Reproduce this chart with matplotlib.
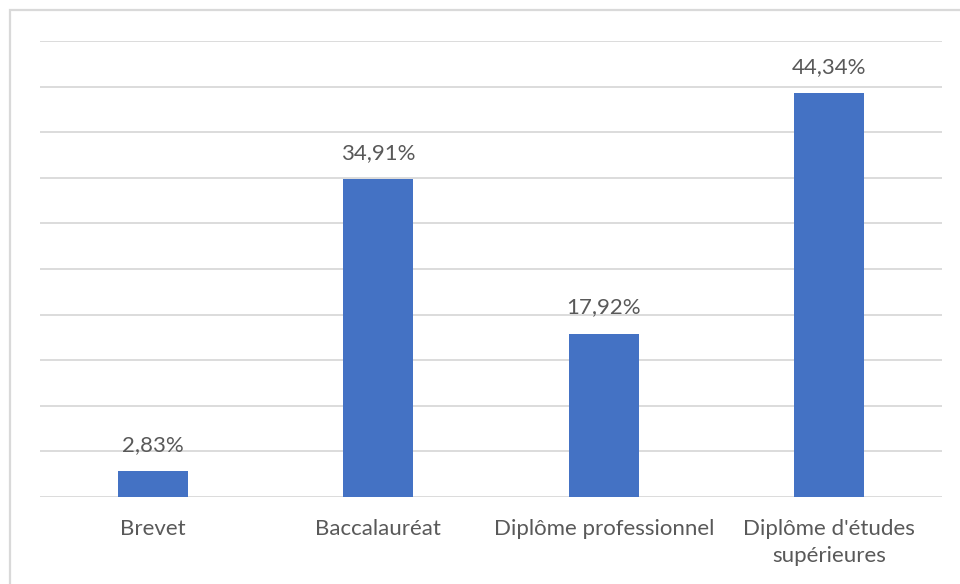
import matplotlib.pyplot as plt
from matplotlib.patches import Rectangle

# niveaux de diplôme et pourcentages
categories = ["Brevet", "Baccalauréat", "Diplôme professionnel", "Diplôme d'études\nsupérieures"]
values = [2.83, 34.91, 17.92, 44.34]

bar_color = "#4472C4"
text_color = "#595959"
grid_color = "#D9D9D9"

plt.rcParams['font.family'] = ['Lato', 'DejaVu Sans']

fig = plt.figure(figsize=(9.6, 5.84), dpi=100)
ax = fig.add_axes([40 / 960, 1 - 497 / 584, 902 / 960, 456 / 584])

x = list(range(len(categories)))
bars = ax.bar(x, values, width=0.31, color=bar_color, zorder=3)

ax.set_xlim(-0.5, len(categories) - 0.5)
ax.set_ylim(0, 50)
ax.set_yticks(range(0, 51, 5))
ax.yaxis.grid(True, color=grid_color, linewidth=1.3, zorder=0)
ax.tick_params(axis='y', left=False, labelleft=False)
ax.tick_params(axis='x', bottom=False, pad=12, labelsize=16, labelcolor=text_color)
ax.set_xticks(x)
ax.set_xticklabels(categories, linespacing=1.45)
for s in ax.spines.values():
    s.set_visible(False)

# étiquettes de valeur au-dessus des barres
for xi, v in zip(x, values):
    ax.annotate(f"{v:.2f}".replace('.', ',') + '%', (xi, v),
                xytext=(0, 14.4), textcoords='offset points',
                ha='center', va='baseline', fontsize=16, color=text_color)

# cadre du graphique
fig.patches.append(Rectangle((10 / 960, -0.2), 1.2, 1.2 - 10 / 584,
                             transform=fig.transFigure, fill=False,
                             edgecolor=grid_color, linewidth=1.6))

fig.savefig("out.png", dpi=100, facecolor="white")
